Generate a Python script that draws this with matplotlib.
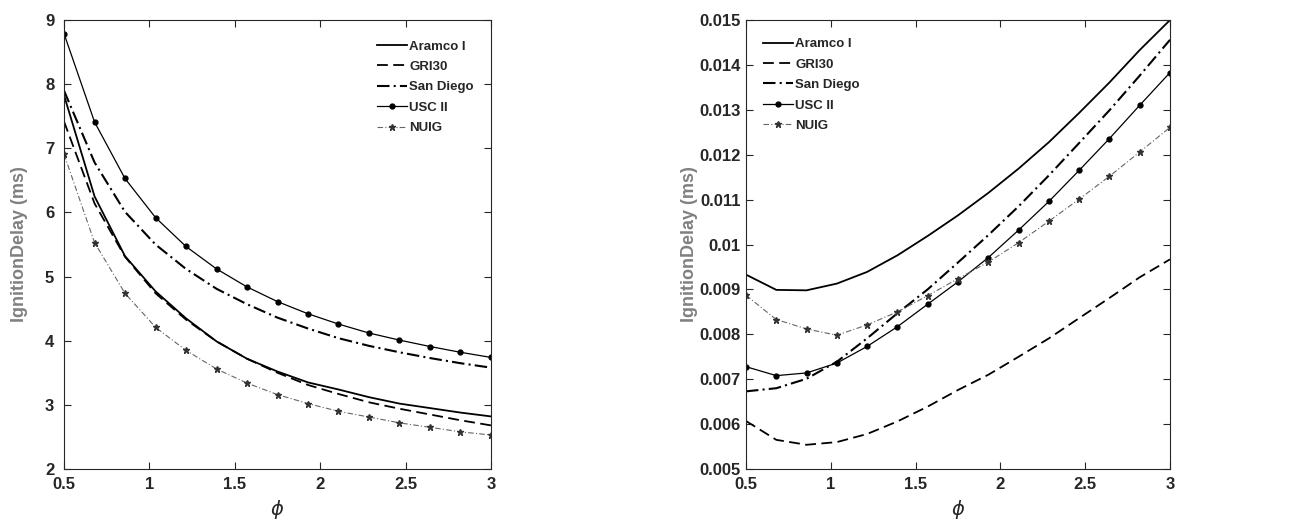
import matplotlib.pyplot as plt
import numpy as np

plt.rcParams['font.family'] = ['Liberation Sans', 'DejaVu Sans']

# equivalence ratio grid (15 points)
phi = [0.5, 0.679, 0.857, 1.036, 1.214, 1.393, 1.571, 1.75,
       1.929, 2.107, 2.286, 2.464, 2.643, 2.821, 3.0]

labels = ['Aramco I', 'GRI30', 'San Diego', 'USC II', 'NUIG']

# left panel
aramco_l = [7.83, 6.25, 5.32, 4.77, 4.35, 3.99, 3.72, 3.52, 3.35, 3.24, 3.12, 3.02, 2.95, 2.88, 2.82]
gri_l = [7.42, 6.14, 5.31, 4.74, 4.33, 3.99, 3.72, 3.50, 3.31, 3.17, 3.04, 2.94, 2.85, 2.76, 2.68]
sandiego_l = [7.90, 6.78, 6.01, 5.50, 5.12, 4.81, 4.57, 4.36, 4.19, 4.04, 3.92, 3.82, 3.73, 3.65, 3.58]
usc_l = [8.79, 7.41, 6.53, 5.92, 5.47, 5.12, 4.84, 4.61, 4.42, 4.26, 4.12, 4.01, 3.91, 3.82, 3.74]
nuig_l = [6.91, 5.53, 4.74, 4.21, 3.85, 3.56, 3.34, 3.16, 3.02, 2.90, 2.81, 2.72, 2.65, 2.58, 2.53]

# right panel
aramco_r = [0.00933, 0.00899, 0.00898, 0.00913, 0.00939, 0.00976, 0.01019, 0.01065,
            0.01115, 0.01169, 0.01228, 0.01293, 0.01361, 0.01433, 0.0150]
gri_r = [0.00607, 0.00565, 0.00554, 0.00560, 0.00578, 0.00606, 0.00639, 0.00676,
         0.00710, 0.00750, 0.00791, 0.00836, 0.00881, 0.00927, 0.00967]
sandiego_r = [0.00673, 0.00680, 0.00701, 0.00739, 0.00791, 0.00847, 0.00900, 0.00960,
              0.01021, 0.01085, 0.01154, 0.01226, 0.01299, 0.01376, 0.01456]
usc_r = [0.00728, 0.00708, 0.00714, 0.00736, 0.00773, 0.00817, 0.00867, 0.00917,
         0.00971, 0.01032, 0.01096, 0.01165, 0.01236, 0.01310, 0.01383]
nuig_r = [0.00887, 0.00833, 0.00812, 0.00798, 0.00821, 0.00850, 0.00886, 0.00924,
          0.00961, 0.01004, 0.01052, 0.01101, 0.01152, 0.01206, 0.01261]

TXT = '#262626'


def draw(ax, series, leg_anchor, ypad):
    a, g, s, u, n = series
    ax.plot(phi, a, color='black', lw=1.3, label=labels[0])
    ax.plot(phi, g, color='black', lw=1.3, ls=(0, (6, 3)), label=labels[1])
    ax.plot(phi, s, color='black', lw=1.5, ls=(0, (6, 2, 1, 2)), label=labels[2])
    ax.plot(phi, u, color='black', lw=0.9, marker='o', ms=3.5, label=labels[3])
    ax.plot(phi, n, color='#666666', lw=0.8, ls=(0, (5, 2, 1, 2)), marker='*', ms=5,
            mfc='#333333', mec='#333333', label=labels[4])
    ax.set_xlim(0.5, 3)
    ax.set_xticks([0.5, 1, 1.5, 2, 2.5, 3])
    ax.set_xticklabels(['0.5', '1', '1.5', '2', '2.5', '3'])
    ax.tick_params(direction='in', top=True, right=True, length=5, width=0.8,
                   labelsize=12, colors=TXT)
    ax.tick_params(axis='x', pad=6)
    ax.tick_params(axis='y', pad=ypad)
    for sp in ax.spines.values():
        sp.set_linewidth(0.8)
        sp.set_color(TXT)
    ax.set_xlabel(r'$\phi$', fontsize=14, labelpad=4, color=TXT)
    ax.set_ylabel('IgnitionDelay (ms)', fontsize=13, fontweight='bold', color='#808080')
    ax.legend(loc='upper left', bbox_to_anchor=leg_anchor, frameon=False,
              prop={'weight': 'bold', 'size': 9.5}, labelcolor=TXT, borderpad=0,
              borderaxespad=0, handlelength=2.3, handletextpad=0.15, labelspacing=0.62)


fig = plt.figure(figsize=(13.14, 5.28), dpi=100)
ax1 = fig.add_axes([0.0487, 0.1117, 0.325, 0.8503])
ax2 = fig.add_axes([0.5677, 0.1117, 0.3227, 0.8503])

draw(ax1, [aramco_l, gri_l, sandiego_l, usc_l, nuig_l], (0.733, 0.955), 7)
ax1.set_ylim(2, 9)
ax1.set_yticks(np.arange(2, 10, 1))
ax1.yaxis.set_label_coords(-0.085, 0.5)

draw(ax2, [aramco_r, gri_r, sandiego_r, usc_r, nuig_r], (0.04, 0.96), 4)
ax2.set_ylim(0.005, 0.015)
yt = [0.005, 0.006, 0.007, 0.008, 0.009, 0.01, 0.011, 0.012, 0.013, 0.014, 0.015]
ax2.set_yticks(yt)
ax2.set_yticklabels(['%g' % v for v in yt])
ax2.yaxis.set_label_coords(-0.113, 0.5)

for ax in (ax1, ax2):
    for lab in ax.get_xticklabels() + ax.get_yticklabels():
        lab.set_fontweight('bold')

fig.savefig('out.png', dpi=100)
